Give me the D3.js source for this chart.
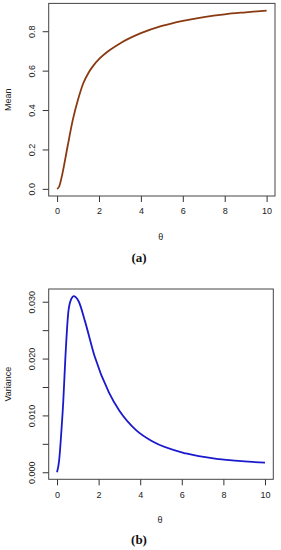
<!DOCTYPE html>
<html>
<head>
<meta charset="utf-8">
<script src="https://cdn.jsdelivr.net/npm/d3@7"></script>
<style>
  body { margin: 0; background: #fff; }
  svg { display: block; }
  .tick text { font-family: "Liberation Sans", Arial, sans-serif; font-size: 9px; fill: #222; }
  .lab { font-family: "Liberation Sans", Arial, sans-serif; font-size: 9px; fill: #222; }
  .cap { font-family: "Liberation Serif", "Times New Roman", serif; font-size: 13px; font-weight: bold; fill: #111; }
</style>
</head>
<body>
<div class="js-d3"></div>
<script>
// (a) mean curve
const meanTheta = [0, 0.1, 0.25, 0.5, 0.75, 1, 1.25, 1.5, 1.75, 2, 2.5, 3, 4, 5, 6, 7, 8, 9, 10];
const meanValues = [0, 0.012, 0.075, 0.215, 0.35, 0.453, 0.536, 0.589, 0.628, 0.658, 0.703, 0.738, 0.79, 0.827, 0.853, 0.872, 0.886, 0.896, 0.905];
const meanTicks = [0, 0.2, 0.4, 0.6, 0.8];

// (b) variance curve
const varTheta = [0, 0.1, 0.2, 0.3, 0.4, 0.55, 0.7, 0.8, 0.9, 1.05, 1.35, 1.8, 2.5, 3, 3.8, 4.6, 6.2, 7.8, 10];
const varValues = [0, 0.002, 0.0067, 0.0124, 0.020, 0.0284, 0.0306, 0.031, 0.0308, 0.030, 0.0265, 0.0205, 0.014, 0.0108, 0.0074, 0.0054, 0.0033, 0.0023, 0.0017];
const varTicks = [0, 0.005, 0.01, 0.015, 0.02, 0.025, 0.03];
const varLabelled = [0, 0.01, 0.02, 0.03];

const thetaTicks = [0, 2, 4, 6, 8, 10];

const W = 281;
const H = 550;

const svg = d3.select(".js-d3")
  .append("svg")
  .attr("width", W)
  .attr("height", H);

// pad a domain by 4% like R does
const pad = (lo, hi) => {
  const d = (hi - lo) * 0.04;
  return [lo - d, hi + d];
};

const drawPanel = (opt) => {
  const { box, xs, ys, color, yTicks, yFmt, yLabel, caption } = opt;

  const x = d3.scaleLinear()
    .domain(pad(d3.min(xs), d3.max(xs)))
    .range([box.left, box.right]);
  const y = d3.scaleLinear()
    .domain(pad(d3.min(ys), d3.max(ys)))
    .range([box.bottom, box.top]);

  const g = svg.append("g");

  // x axis
  const xAxis = g.append("g")
    .attr("transform", `translate(0, ${box.bottom})`)
    .call(d3.axisBottom(x).tickValues(thetaTicks).tickSize(6).tickPadding(6).tickFormat(d3.format("d")));
  xAxis.select(".domain").remove();
  xAxis.selectAll("line").attr("stroke", "#333");
  xAxis.selectAll("text").attr("dy", "0.71em");

  // y axis, labels parallel to axis
  const yAxis = g.append("g")
    .attr("transform", `translate(${box.left}, 0)`)
    .call(d3.axisLeft(y).tickValues(yTicks).tickSize(6).tickFormat(yFmt));
  yAxis.select(".domain").remove();
  yAxis.selectAll("line").attr("stroke", "#333");
  yAxis.selectAll("text")
    .attr("x", null)
    .attr("dy", null)
    .attr("text-anchor", "middle")
    .attr("dominant-baseline", "central")
    .attr("transform", (d) => `translate(-17, 0) rotate(-90)`);

  // box
  g.append("rect")
    .attr("x", box.left)
    .attr("y", box.top)
    .attr("width", box.right - box.left)
    .attr("height", box.bottom - box.top)
    .attr("fill", "none")
    .attr("stroke", "#444")
    .attr("stroke-width", 1);

  const line = d3.line()
    .x((d, i) => x(xs[i]))
    .y((d) => y(d))
    .curve(d3.curveMonotoneX);

  g.append("path")
    .datum(ys)
    .attr("d", line)
    .attr("fill", "none")
    .attr("stroke", color)
    .attr("stroke-width", 1.8);

  const cx = (box.left + box.right) / 2;

  g.append("text")
    .attr("class", "lab")
    .attr("x", cx - 1)
    .attr("y", box.bottom + 41)
    .attr("text-anchor", "middle")
    .attr("dominant-baseline", "central")
    .text("θ");

  g.append("text")
    .attr("class", "lab")
    .attr("text-anchor", "middle")
    .attr("dominant-baseline", "central")
    .attr("transform", `translate(8, ${(box.top + box.bottom) / 2}) rotate(-90)`)
    .text(yLabel);

  g.append("text")
    .attr("class", "cap")
    .attr("x", 139)
    .attr("y", box.bottom + opt.capOffset)
    .attr("text-anchor", "middle")
    .attr("dominant-baseline", "central")
    .text(caption);
};

drawPanel({
  box: { left: 48.7, right: 275, top: 3.4, bottom: 196 },
  xs: meanTheta,
  ys: meanValues,
  color: "#8a3a12",
  yTicks: meanTicks,
  yFmt: d3.format(".1f"),
  yLabel: "Mean",
  caption: "(a)",
  capOffset: 61
});

drawPanel({
  box: { left: 48.7, right: 273.3, top: 289, bottom: 479.3 },
  xs: varTheta,
  ys: varValues,
  color: "#1a1acc",
  yTicks: varTicks,
  yFmt: (d) => (varLabelled.some((v) => Math.abs(v - d) < 1e-9) ? d3.format(".3f")(d) : ""),
  yLabel: "Variance",
  caption: "(b)",
  capOffset: 60
});
</script>
</body>
</html>
